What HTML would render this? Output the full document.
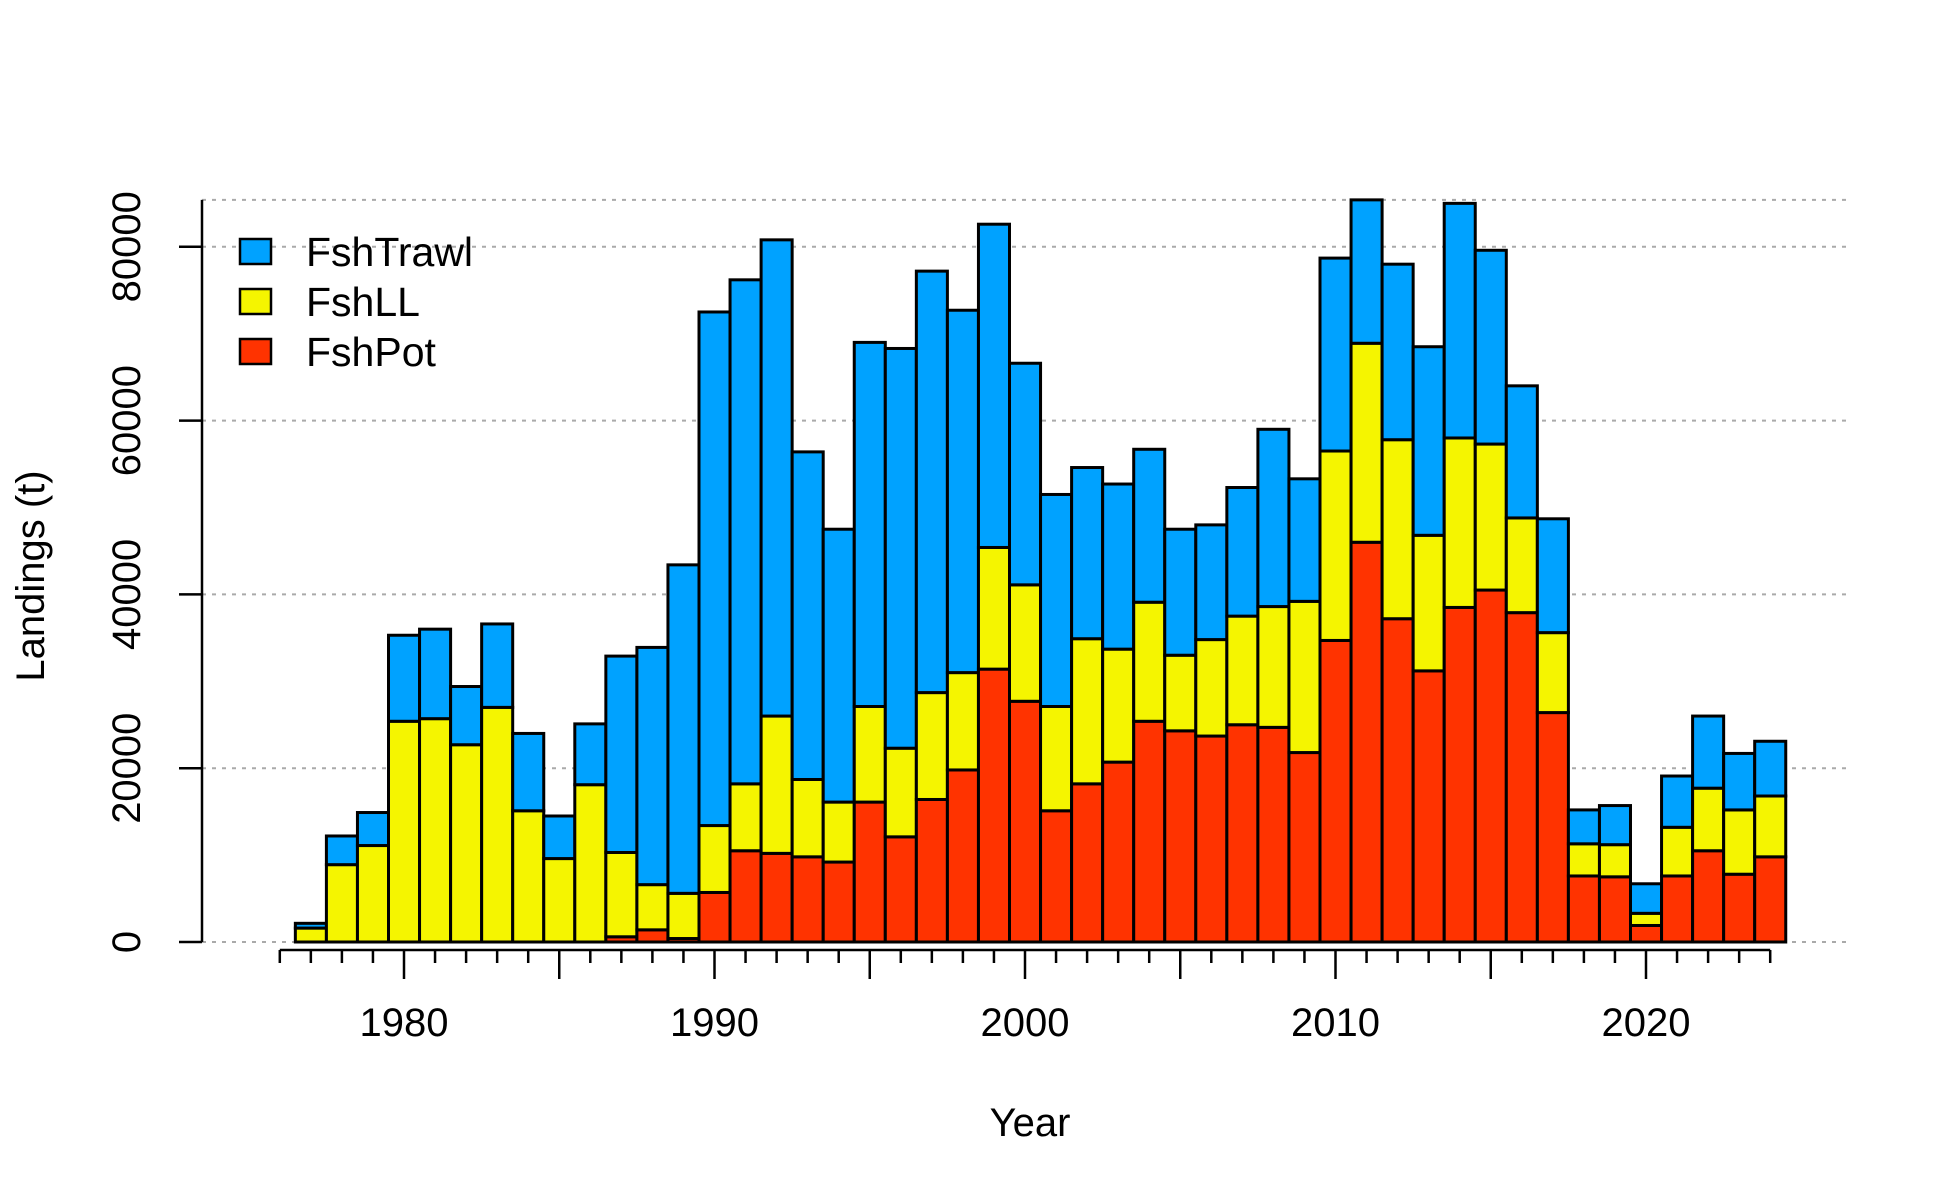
<!DOCTYPE html>
<html><head><meta charset="utf-8"><style>
body{margin:0;background:#fff}
svg{display:block;font-family:"Liberation Sans",Arial,sans-serif}
</style></head><body>
<svg id="chart" width="1950" height="1200" xmlns="http://www.w3.org/2000/svg">
<g id="grid"></g>
<g id="bars"></g>
<g id="axes"></g>
<text x="1030" y="1136" font-size="40" text-anchor="middle">Year</text>
<text transform="translate(44,576) rotate(-90)" font-size="40" text-anchor="middle">Landings (t)</text>
<g>
<g><rect x="240" y="239" width="31" height="25" fill="#00a2ff" stroke="#000" stroke-width="2.5"/><text x="306" y="266" font-size="41">FshTrawl</text></g>
<g><rect x="240" y="289" width="31" height="25" fill="#f5f500" stroke="#000" stroke-width="2.5"/><text x="306" y="316" font-size="41">FshLL</text></g>
<g><rect x="240" y="339" width="31" height="25" fill="#ff3300" stroke="#000" stroke-width="2.5"/><text x="306" y="366" font-size="41">FshPot</text></g>
</g>
</svg>
<script>
const years=[1977,1978,1979,1980,1981,1982,1983,1984,1985,1986,1987,1988,1989,1990,1991,1992,1993,1994,1995,1996,1997,1998,1999,2000,2001,2002,2003,2004,2005,2006,2007,2008,2009,2010,2011,2012,2013,2014,2015,2016,2017,2018,2019,2020,2021,2022,2023,2024];
const potVals=[0,0,0,0,0,0,0,0,0,0,600,1400,400,5700,10500,10200,9800,9200,16100,12100,16400,19800,31400,27700,15100,18200,20700,25400,24300,23700,25000,24700,21800,34700,46000,37200,31200,38500,40500,37900,26400,7600,7500,1900,7600,10500,7800,9800];
const llTop=[1600,8900,11100,25400,25700,22700,27000,15100,9600,18100,10300,6600,5600,13400,18200,26000,18700,16100,27100,22300,28700,31000,45400,41100,27100,34900,33700,39100,33000,34800,37500,38600,39200,56500,68900,57800,46800,58000,57300,48800,35600,11300,11200,3300,13200,17700,15200,16800];
const totals=[2150,12200,14900,35300,36000,29400,36600,24000,14500,25100,32900,33900,43400,72500,76200,80800,56400,47500,69000,68300,77200,72700,82600,66600,51500,54600,52700,56700,47500,48000,52300,59000,53300,78700,85400,78000,68500,85000,79600,64000,48700,15200,15700,6700,19100,26000,21700,23100];
const yTicks=[0,20000,40000,60000,80000];
const xLabels=[1980,1990,2000,2010,2020];

const NS="http://www.w3.org/2000/svg";
const x=yr=>404+(yr-1980)*31.05;
const y=v=>942-v*0.00869;
function mk(tag,attrs,parent){const e=document.createElementNS(NS,tag);for(const k in attrs)e.setAttribute(k,attrs[k]);parent.appendChild(e);return e;}
const grid=document.getElementById('grid'),bars=document.getElementById('bars'),axes=document.getElementById('axes');
const maxV=Math.max(...totals);
[...yTicks,maxV].forEach(v=>{
  const l=mk('line',{x1:202,x2:1850,y1:y(v),y2:y(v),stroke:'#aaa','stroke-width':2,'stroke-dasharray':'4,6'},grid);
  
  
});
years.forEach((yr,i)=>{
  const segs=[[0,potVals[i],'#ff3300','pot'],[potVals[i],llTop[i],'#f5f500','ll'],[llTop[i],totals[i],'#00a2ff','trawl']];
  segs.forEach(s=>{
    if(s[1]-s[0]<=0)return;
    const r=mk('rect',{x:x(yr)-15.5,width:31.05,y:y(s[1]),height:y(s[0])-y(s[1]),fill:s[2],stroke:'#000','stroke-width':3},bars);
    
    
  });
});
const ya=mk('line',{x1:202,x2:202,y1:y(maxV),y2:y(0),stroke:'#000','stroke-width':2.5},axes);


yTicks.forEach(v=>{
  mk('line',{x1:179,x2:202,y1:y(v),y2:y(v),stroke:'#000','stroke-width':2.5},axes);
  const t=mk('text',{transform:`translate(140,${y(v)}) rotate(-90)`,'font-size':40,'text-anchor':'middle'},axes);
  t.textContent=v;
  
  
});
const xa=mk('line',{x1:x(1976),x2:x(2024),y1:950,y2:950,stroke:'#000','stroke-width':2.5},axes);


for(let yr=1976;yr<=2024;yr++){
  const major=yr%5===0;
  mk('line',{x1:x(yr),x2:x(yr),y1:950,y2:major?979:963,stroke:'#000','stroke-width':2.5},axes);
}
xLabels.forEach(v=>{
  const t=mk('text',{x:x(v),y:1036,'font-size':40,'text-anchor':'middle'},axes);
  t.textContent=v;
  
  
});
</script>
</body></html>
